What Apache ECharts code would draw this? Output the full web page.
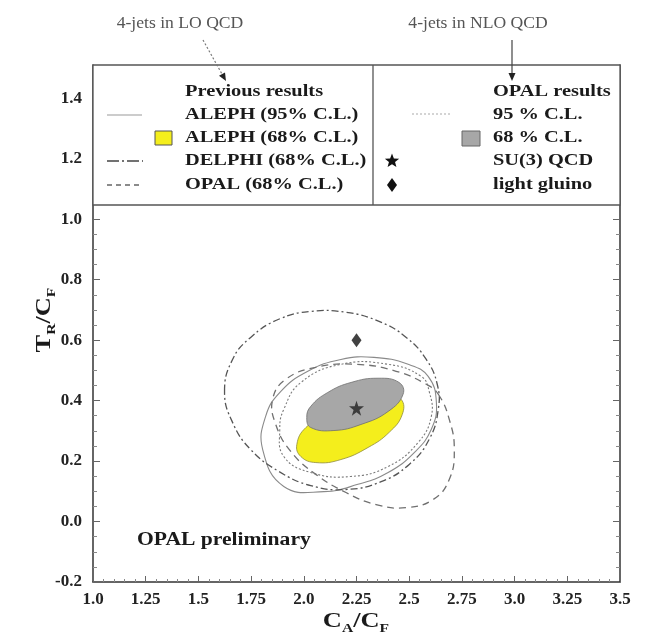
<!DOCTYPE html>
<html>
<head>
<meta charset="utf-8">
<script src="https://cdn.jsdelivr.net/npm/echarts@6/dist/echarts.min.js"></script>
<style>
  html, body { margin: 0; padding: 0; background: #fff; }
  #chart { width: 649px; height: 636px; }
</style>
</head>
<body>
<div id="chart"></div>
<script>
// Tick labels
const xTickLabels = ['1.0', '1.25', '1.5', '1.75', '2.0', '2.25', '2.5', '2.75', '3.0', '3.25', '3.5'];
const yTickLabels = ['-0.2', '0.0', '0.2', '0.4', '0.6', '0.8', '1.0', '1.2', '1.4'];

// Confidence-region contours, points as [C_A/C_F, T_R/C_F]
const aleph95 = [
  [1.805, 0.238], [1.905, 0.116], [2.095, 0.099], [2.257, 0.123], [2.400, 0.162],
  [2.524, 0.228], [2.605, 0.305], [2.629, 0.394], [2.590, 0.480], [2.495, 0.520],
  [2.333, 0.543], [2.176, 0.536], [2.019, 0.497], [1.890, 0.430], [1.819, 0.348]
];
const aleph68 = [
  [1.967, 0.255], [1.986, 0.215], [2.057, 0.195], [2.176, 0.205], [2.305, 0.245],
  [2.405, 0.295], [2.467, 0.354], [2.462, 0.404], [2.390, 0.421], [2.271, 0.404],
  [2.129, 0.364], [2.010, 0.311]
];
const delphi68 = [
  [1.624, 0.430], [1.662, 0.536], [1.748, 0.609], [1.881, 0.669], [2.033, 0.695],
  [2.200, 0.692], [2.357, 0.662], [2.486, 0.609], [2.581, 0.536], [2.633, 0.454],
  [2.638, 0.371], [2.595, 0.272], [2.500, 0.189], [2.367, 0.132], [2.200, 0.106],
  [2.033, 0.119], [1.881, 0.166], [1.748, 0.238], [1.662, 0.328]
];
const opalLO68 = [
  [2.638, 0.421], [2.690, 0.338], [2.714, 0.238], [2.690, 0.139], [2.614, 0.073],
  [2.486, 0.046], [2.343, 0.056], [2.200, 0.096], [2.057, 0.156], [1.938, 0.232],
  [1.867, 0.321], [1.852, 0.404], [1.914, 0.470], [2.057, 0.510], [2.248, 0.520],
  [2.438, 0.497], [2.581, 0.454]
];
const opalNLO95 = [
  [1.886, 0.305], [1.905, 0.215], [2.033, 0.162], [2.224, 0.149], [2.400, 0.182],
  [2.543, 0.262], [2.605, 0.348], [2.595, 0.430], [2.557, 0.480], [2.400, 0.520],
  [2.176, 0.520], [1.986, 0.460], [1.905, 0.371]
];
const opalNLO68 = [
  [2.014, 0.344], [2.033, 0.311], [2.143, 0.301], [2.271, 0.321], [2.400, 0.364],
  [2.471, 0.421], [2.452, 0.460], [2.352, 0.474], [2.224, 0.460], [2.114, 0.427],
  [2.033, 0.381]
];

// Theory points
const su3Point = [[2.25, 0.375]];
const lightGluinoPoint = [[2.25, 0.6]];

const chart = echarts.init(document.getElementById('chart'));

const SERIF = '"Liberation Serif", "Times New Roman", serif';
const STAR_PATH = 'path://M50,0 L61.8,35.1 L98.8,35.1 L68.9,57 L80.3,92.1 L50,70.5 L19.7,92.1 L31.1,57 L1.2,35.1 L38.2,35.1 Z';

// Closed smooth outline through the contour points
function contour(name, points, style, z) {
  return {
    name: name,
    type: 'custom',
    coordinateSystem: 'cartesian2d',
    data: points,
    encode: { x: 0, y: 1 },
    z: z,
    silent: true,
    renderItem: function (params, api) {
      if (params.dataIndex !== 0) return null;
      return {
        type: 'polygon',
        shape: { points: points.map(function (p) { return api.coord(p); }), smooth: 0.45 },
        style: style
      };
    }
  };
}

function labelFrom(list, start, step) {
  return function (v) {
    const i = Math.round((v - start) / step);
    if (i < 0 || i >= list.length || Math.abs(start + i * step - v) > 1e-6) return '';
    return list[i];
  };
}

function starPoints(cx, cy, R, r) {
  const pts = [];
  for (let k = 0; k < 10; k++) {
    const a = -Math.PI / 2 + k * Math.PI / 5;
    const rad = k % 2 === 0 ? R : r;
    pts.push([cx + rad * Math.cos(a), cy + rad * Math.sin(a)]);
  }
  return pts;
}

const tickFont = { fontFamily: SERIF, fontWeight: 'bold', fontSize: 17, color: '#222' };

function legendText(text, x, y) {
  return {
    type: 'text', x: x, y: y, scaleX: 1.2, z: 110,
    style: { text: text, font: 'bold 17px ' + SERIF, fill: '#1a1a1a', align: 'left', verticalAlign: 'middle' }
  };
}

const option = {
  animation: false,
  backgroundColor: '#fff',
  grid: { left: 93, right: 29, top: 65, bottom: 54 },
  xAxis: {
    type: 'value', min: 1, max: 3.5, interval: 0.25,
    axisLine: { show: true, onZero: false, lineStyle: { color: '#333', width: 1.5 } },
    axisTick: { show: true, inside: true, length: 6, lineStyle: { color: '#666' } },
    minorTick: { show: true, splitNumber: 5, length: 3, lineStyle: { color: '#888' } },
    splitLine: { show: false },
    axisLabel: Object.assign({ margin: 9, formatter: labelFrom(xTickLabels, 1, 0.25) }, tickFont)
  },
  yAxis: [
    {
      type: 'value', min: -0.2, max: 1.51, interval: 0.2, position: 'left',
      axisLine: { show: true, onZero: false, lineStyle: { color: '#333', width: 1.5 } },
      axisTick: { show: true, inside: true, length: 7, lineStyle: { color: '#666' } },
      minorTick: { show: true, splitNumber: 4, length: 4, lineStyle: { color: '#888' } },
      splitLine: { show: false },
      axisLabel: Object.assign({ margin: 11, formatter: labelFrom(yTickLabels, -0.2, 0.2) }, tickFont)
    },
    {
      type: 'value', min: -0.2, max: 1.51, interval: 0.2, position: 'right',
      axisLine: { show: true, onZero: false, lineStyle: { color: '#333', width: 1.5 } },
      axisTick: { show: true, inside: true, length: 7, lineStyle: { color: '#666' } },
      minorTick: { show: true, splitNumber: 4, length: 4, lineStyle: { color: '#888' } },
      splitLine: { show: false },
      axisLabel: { show: false }
    }
  ],
  series: [
    contour('ALEPH (68% C.L.)', aleph68, { fill: '#f4ee1c', stroke: '#8f8c3a', lineWidth: 0.8 }, 2),
    contour('OPAL 68 % C.L.', opalNLO68, { fill: '#a7a7a7', stroke: '#6f6f6f', lineWidth: 0.8 }, 3),
    contour('ALEPH (95% C.L.)', aleph95, { fill: 'none', stroke: '#8a8a8a', lineWidth: 1.1 }, 4),
    contour('DELPHI (68% C.L.)', delphi68, { fill: 'none', stroke: '#555', lineWidth: 1.3, lineDash: [7, 3, 2, 3] }, 4),
    contour('OPAL (68% C.L.)', opalLO68, { fill: 'none', stroke: '#707070', lineWidth: 1.3, lineDash: [7, 5] }, 4),
    contour('OPAL 95 % C.L.', opalNLO95, { fill: 'none', stroke: '#7a7a7a', lineWidth: 1.1, lineDash: [2, 2] }, 4),
    {
      name: 'SU(3) QCD', type: 'scatter', data: su3Point, z: 6,
      symbol: STAR_PATH, symbolSize: 15, itemStyle: { color: '#222' }, silent: true
    },
    {
      name: 'light gluino', type: 'scatter', data: lightGluinoPoint, z: 6,
      symbol: 'diamond', symbolSize: [10, 14], itemStyle: { color: '#111' }, silent: true
    }
  ],
  graphic: [
    // legend panel along the top of the frame
    { type: 'rect', z: 100, shape: { x: 93, y: 65, width: 527, height: 140 },
      style: { fill: '#fff', stroke: '#555', lineWidth: 1.3 } },
    { type: 'line', z: 101, shape: { x1: 373, y1: 65, x2: 373, y2: 205 },
      style: { stroke: '#555', lineWidth: 1.3 } },

    legendText('Previous results', 185, 92),
    legendText('ALEPH (95% C.L.)', 185, 115),
    legendText('ALEPH (68% C.L.)', 185, 138),
    legendText('DELPHI (68% C.L.)', 185, 161),
    legendText('OPAL (68% C.L.)', 185, 185),
    { type: 'line', z: 110, shape: { x1: 107, y1: 115, x2: 142, y2: 115 }, style: { stroke: '#999', lineWidth: 1.1 } },
    { type: 'rect', z: 110, shape: { x: 155, y: 131, width: 17, height: 14 }, style: { fill: '#f4ee1c', stroke: '#555', lineWidth: 1 } },
    { type: 'line', z: 110, shape: { x1: 107, y1: 161, x2: 143, y2: 161 }, style: { stroke: '#444', lineWidth: 1.4, lineDash: [12, 3, 2, 3] } },
    { type: 'line', z: 110, shape: { x1: 107, y1: 185, x2: 143, y2: 185 }, style: { stroke: '#666', lineWidth: 1.3, lineDash: [5, 4] } },

    legendText('OPAL results', 493, 92),
    legendText('95 % C.L.', 493, 115),
    legendText('68 % C.L.', 493, 138),
    legendText('SU(3) QCD', 493, 161),
    legendText('light gluino', 493, 185),
    { type: 'line', z: 110, shape: { x1: 412, y1: 114, x2: 452, y2: 114 }, style: { stroke: '#aaa', lineWidth: 1.1, lineDash: [2, 2] } },
    { type: 'rect', z: 110, shape: { x: 462, y: 131, width: 18, height: 15 }, style: { fill: '#a7a7a7', stroke: '#666', lineWidth: 1 } },
    { type: 'polygon', z: 110, shape: { points: starPoints(392, 161, 7.5, 3.2) }, style: { fill: '#111' } },
    { type: 'polygon', z: 110, shape: { points: [[392, 178], [397, 185], [392, 192], [387, 185]] }, style: { fill: '#111' } },

    // fit-type annotations with arrows into the legend
    { type: 'text', x: 180, y: 24, scaleX: 1.1, z: 110,
      style: { text: '4-jets in LO QCD', font: '16px ' + SERIF, fill: '#555', align: 'center', verticalAlign: 'middle' } },
    { type: 'text', x: 478, y: 24, scaleX: 1.1, z: 110,
      style: { text: '4-jets in NLO QCD', font: '16px ' + SERIF, fill: '#555', align: 'center', verticalAlign: 'middle' } },
    { type: 'line', z: 110, shape: { x1: 203, y1: 40, x2: 222, y2: 74 }, style: { stroke: '#777', lineWidth: 1.2, lineDash: [2, 2] } },
    { type: 'polygon', z: 110, shape: { points: [[226, 81], [225, 72.4], [219, 75.8]] }, style: { fill: '#222' } },
    { type: 'line', z: 110, shape: { x1: 512, y1: 40, x2: 512, y2: 74 }, style: { stroke: '#444', lineWidth: 1.2 } },
    { type: 'polygon', z: 110, shape: { points: [[512, 81], [508.5, 73], [515.5, 73]] }, style: { fill: '#222' } },

    // in-frame label
    { type: 'text', x: 137, y: 540, scaleX: 1.2, z: 110,
      style: { text: 'OPAL preliminary', font: 'bold 18px ' + SERIF, fill: '#1a1a1a', align: 'left', verticalAlign: 'middle' } },

    // axis titles
    { type: 'text', x: 356, y: 610, scaleX: 1.2, z: 110,
      style: {
        text: '{c|C}{s|A}{c|/C}{s|F}', align: 'center', verticalAlign: 'top', fill: '#1a1a1a',
        rich: {
          c: { font: 'bold 22px ' + SERIF, lineHeight: 22, verticalAlign: 'top', fill: '#1a1a1a' },
          s: { font: 'bold 13px ' + SERIF, lineHeight: 13, padding: [12, 0, 0, 0], verticalAlign: 'top', fill: '#1a1a1a' }
        }
      } },
    { type: 'text', x: 44, y: 320, rotation: Math.PI / 2, scaleX: 1.2, z: 110,
      style: {
        text: '{c|T}{s|R}{c|/C}{s|F}', align: 'center', verticalAlign: 'middle', fill: '#1a1a1a',
        rich: {
          c: { font: 'bold 22px ' + SERIF, lineHeight: 22, verticalAlign: 'top', fill: '#1a1a1a' },
          s: { font: 'bold 13px ' + SERIF, lineHeight: 13, padding: [12, 0, 0, 0], verticalAlign: 'top', fill: '#1a1a1a' }
        }
      } }
  ]
};

chart.setOption(option);
</script>
</body>
</html>
